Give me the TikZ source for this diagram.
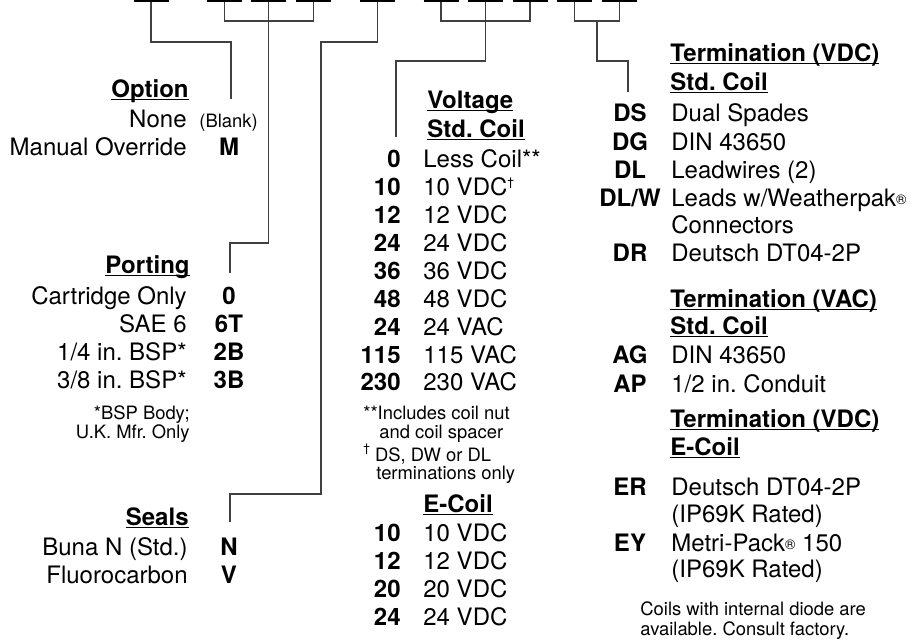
\documentclass[tikz,border=0pt]{standalone}
\usepackage{fontspec}
\setmainfont{TeX Gyre Heros}
\usepackage{tikz}

\definecolor{connGray}{HTML}{404040}

\newcommand{\ulhead}[1]{\setbox0=\hbox{\bfseries #1}\rlap{\rule[-1.6pt]{\wd0}{0.6pt}}\box0}
\newcommand{\regmark}{{\fontsize{7}{7}\selectfont\raisebox{0.6pt}{®}}}
\newcommand{\dagmark}{\raisebox{4.5pt}{\fontsize{6}{6}\selectfont †}}
\frenchspacing

\begin{document}
\begin{tikzpicture}[
    x=0.5pt, y=-0.5pt,
    txt/.style={inner sep=0pt, font=\fontsize{12}{14}\selectfont},
    head/.style={inner sep=0pt, font=\fontsize{12}{14}\selectfont\bfseries},
    code_lbl/.style={inner sep=0pt, anchor=base, font=\fontsize{12}{14}\selectfont\bfseries},
    desc_r/.style={txt, anchor=base east},
    desc_l/.style={txt, anchor=base west},
    note/.style={inner sep=0pt, font=\fontsize{9.2}{11}\selectfont},
    conn/.style={draw=connGray, line width=0.6pt},
    blank_line/.style={draw=black, line width=1pt}
]
\useasboundingbox (0,0) rectangle (922,639);

% Leerstellen oben
\foreach \x [count=\i] in {151, 224.5, 268.5, 313.5, 377.5, 441, 485.5, 530, 574.5, 619.5} {
    \coordinate (b\i) at (\x,2);
    \draw[blank_line] (\x-17.5,1) -- (\x+17.5,1);
}

% Option
\node[head, anchor=base east] (opt_head) at (189,97) {\ulhead{Option}};
\node[desc_r] (opt_none) at (187,127) {None};
\node[note, anchor=base west] (opt_blank) at (199,127) {(Blank)};
\node[desc_r] (opt_man) at (187,155) {Manual Override};
\node[code_lbl] (opt_m) at (229,155) {M};

% Porting
\node[head, anchor=base east] (port_head) at (190,273) {\ulhead{Porting}};
\foreach \d/\c/\y [count=\i] in {Cartridge Only/0/304, SAE 6/6T/332, {1/4 in. BSP*}/2B/360, {3/8 in. BSP*}/3B/388} {
    \node[desc_r] (port_d\i) at (187,\y) {\d};
    \node[code_lbl] (port_c\i) at (229,\y) {\c};
}
\node[note, anchor=base east] (port_n1) at (190,419) {*BSP Body;};
\node[note, anchor=base east] (port_n2) at (190,438) {U.K. Mfr. Only};

% Seals
\node[head, anchor=base east] (seal_head) at (189,525) {\ulhead{Seals}};
\node[desc_r] (seal_d1) at (188,555) {Buna N (Std.)};
\node[code_lbl] (seal_c1) at (229,555) {N};
\node[desc_r] (seal_d2) at (188,583) {Fluorocarbon};
\node[code_lbl] (seal_c2) at (229,583) {V};

% Voltage
\node[head, anchor=base west] (volt_head) at (427,108) {\ulhead{Voltage}};
\node[head, anchor=base west] (volt_sub) at (427,137) {\ulhead{Std. Coil}};
\foreach \c/\d/\y [count=\i] in {0/Less Coil**/167, 10/{10 VDC\dagmark}/195, 12/12 VDC/223, 24/24 VDC/251, 36/36 VDC/279, 48/48 VDC/307, 24/24 VAC/335, 115/115 VAC/363, 230/230 VAC/390} {
    \node[code_lbl, anchor=base east] (vc\i) at (401,\y) {\c};
    \node[desc_l] (vd\i) at (423,\y) {\d};
}
\node[note, anchor=base west] (volt_n1) at (363,419) {**Includes coil nut};
\node[note, anchor=base west] (volt_n2) at (379,438) {and coil spacer};
\node[note, anchor=base west] (volt_n3) at (363,461) {\dagmark\ DS, DW or DL};
\node[note, anchor=base west] (volt_n4) at (376,479) {terminations only};

% E-Coil
\node[head, anchor=base west] (ecoil_head) at (423,512) {\ulhead{E-Coil}};
\foreach \c/\y [count=\i] in {10/541, 12/569, 20/597, 24/625} {
    \node[code_lbl, anchor=base east] (ec\i) at (401,\y) {\c};
    \node[desc_l] (ed\i) at (423,\y) {\c\ VDC};
}

% Termination (VDC) Std. Coil
\node[head, anchor=base west] (tdc_head) at (670,61) {\ulhead{Termination (VDC)}};
\node[head, anchor=base west] (tdc_sub) at (670,90) {\ulhead{Std. Coil}};
\foreach \c/\d/\y [count=\i] in {DS/Dual Spades/121, DG/DIN 43650/150, DL/Leadwires (2)/178, {DL/W}/{Leads w/Weatherpak\regmark}/206, DR/Deutsch DT04-2P/261} {
    \node[code_lbl] (tdc_c\i) at (630,\y) {\c};
    \node[desc_l] (tdc_d\i) at (671,\y) {\d};
}
\node[desc_l] (tdc_d4b) at (671,233) {Connectors};

% Termination (VAC) Std. Coil
\node[head, anchor=base west] (tac_head) at (670,307) {\ulhead{Termination (VAC)}};
\node[head, anchor=base west] (tac_sub) at (670,334) {\ulhead{Std. Coil}};
\node[code_lbl] (tac_c1) at (630,363) {AG};
\node[desc_l] (tac_d1) at (671,363) {DIN 43650};
\node[code_lbl] (tac_c2) at (630,392) {AP};
\node[desc_l] (tac_d2) at (671,392) {1/2 in. Conduit};

% Termination (VDC) E-Coil
\node[head, anchor=base west] (tec_head) at (670,427) {\ulhead{Termination (VDC)}};
\node[head, anchor=base west] (tec_sub) at (670,455) {\ulhead{E-Coil}};
\node[code_lbl] (tec_c1) at (630,495) {ER};
\node[desc_l] (tec_d1) at (671,495) {Deutsch DT04-2P};
\node[desc_l] (tec_d1b) at (671,522) {(IP69K Rated)};
\node[code_lbl] (tec_c2) at (630,551) {EY};
\node[desc_l] (tec_d2) at (671,551) {Metri-Pack\regmark{} 150};
\node[desc_l] (tec_d2b) at (671,577) {(IP69K Rated)};
\node[note, anchor=base west] (tec_n1) at (640,615) {Coils with internal diode are};
\node[note, anchor=base west] (tec_n2) at (640,635) {available. Consult factory.};

% Verbindungslinien
\coordinate (opt_end) at (231,99);
\draw[conn] (b1) -- ++(0,40) -| (opt_end);
\draw[conn] (b2) -- ++(0,19) -| (b4);
\coordinate (port_end) at (230,273);
\draw[conn] (b3) -- ++(0,241) -| (port_end);
\coordinate (seal_jog) at (321,494);
\coordinate (seal_end) at (230,522);
\draw[conn] (b5) -- ++(0,40) -| (seal_jog) -| (seal_end);
\draw[conn] (b6) -- ++(0,19) -| (b8);
\coordinate (volt_end) at (396,137);
\draw[conn] (b7) -- ++(0,59) -| (volt_end);
\draw[conn] (b9) -- ++(0,19) -| (b10);
\coordinate (term_join) at (597,21);
\coordinate (term_end) at (628,92);
\draw[conn] (term_join) -- ++(0,40) -| (term_end);

\end{tikzpicture}
\end{document}
